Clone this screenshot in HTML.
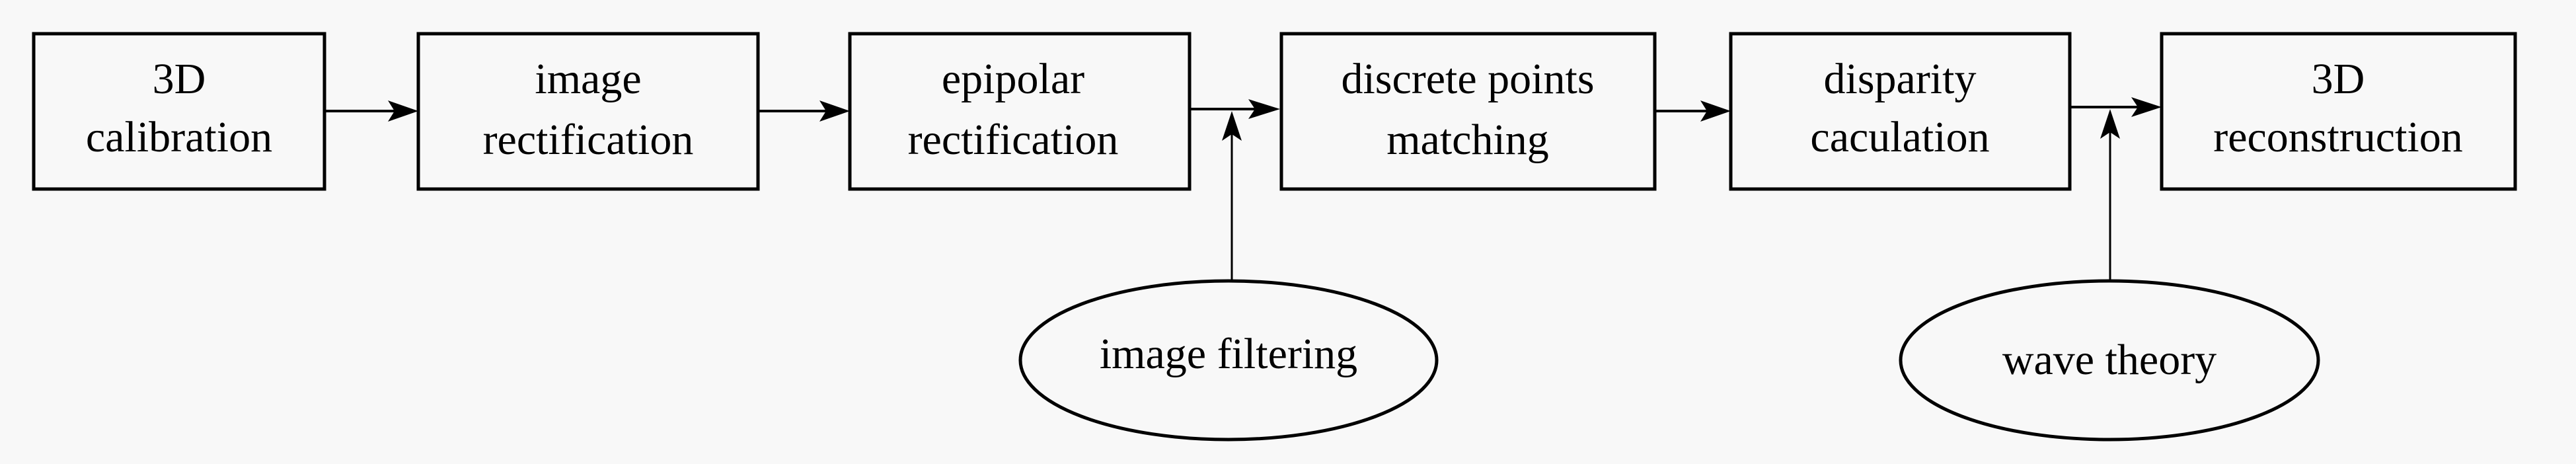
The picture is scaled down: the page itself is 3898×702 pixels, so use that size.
<!DOCTYPE html>
<html><head><meta charset="utf-8"><style>
html,body{margin:0;padding:0;background:#f8f8f8;}
svg{display:block;}
text{font-family:"Liberation Serif",serif;font-size:66px;fill:#000;text-anchor:middle;}
</style></head><body>
<svg width="3898" height="702" viewBox="0 0 3898 702" xmlns="http://www.w3.org/2000/svg">
<rect width="3898" height="702" fill="#f8f8f8"/>
<g fill="none" stroke="#000" stroke-width="5">
<rect x="51" y="51" width="440" height="235"/>
<rect x="633" y="51" width="514" height="235"/>
<rect x="1286" y="51" width="514" height="235"/>
<rect x="1939" y="51" width="565" height="235"/>
<rect x="2619" y="51" width="513" height="235"/>
<rect x="3271" y="51" width="535" height="235"/>
<ellipse cx="1859" cy="545" rx="315" ry="120"/>
<ellipse cx="3192" cy="545" rx="316" ry="120"/>
</g>
<g stroke="#000" stroke-width="4">
<line x1="491" y1="168" x2="600" y2="168"/>
<line x1="1147" y1="168" x2="1255" y2="168"/>
<line x1="1800" y1="165" x2="1905" y2="165"/>
<line x1="2504" y1="168" x2="2588" y2="168"/>
<line x1="3132" y1="162" x2="3240" y2="162"/>
</g>
<g stroke="#000" stroke-width="3">
<line x1="1864" y1="195" x2="1864" y2="425"/>
<line x1="3193" y1="190" x2="3193" y2="425"/>
</g>
<g fill="#000">
<path d="M633,168 L587,152 L597,168 L587,184 Z"/>
<path d="M1286,168 L1240,152 L1250,168 L1240,184 Z"/>
<path d="M1937,165 L1889,150 L1899,165 L1889,180 Z"/>
<path d="M2619,168 L2573,152 L2583,168 L2573,184 Z"/>
<path d="M3271,162 L3225,147 L3235,162 L3225,177 Z"/>
<path d="M1864,168 L1849,213 L1864,203 L1879,213 Z"/>
<path d="M3193,165 L3178,210 L3193,200 L3208,210 Z"/>
</g>
<text x="271" y="141">3D</text>
<text x="271" y="229">calibration</text>
<text x="890" y="141">image</text>
<text x="890" y="233">rectification</text>
<text x="1533" y="141">epipolar</text>
<text x="1533" y="233">rectification</text>
<text x="2221" y="141">discrete points</text>
<text x="2221" y="233">matching</text>
<text x="2875" y="141">disparity</text>
<text x="2875" y="229">caculation</text>
<text x="3538" y="141">3D</text>
<text x="3538" y="229">reconstruction</text>
<text x="1859" y="557">image filtering</text>
<text x="3192" y="566">wave theory</text>
</svg>
</body></html>
